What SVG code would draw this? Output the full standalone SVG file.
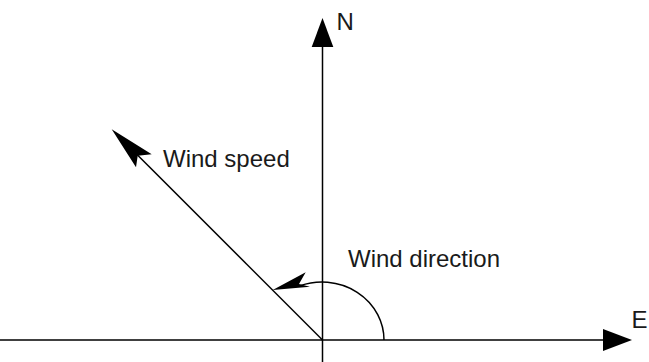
<svg xmlns="http://www.w3.org/2000/svg" width="649" height="362" viewBox="0 0 649 362">
<style>
.ln{stroke:#000;stroke-width:1.5;fill:none}
.hd{fill:#000;stroke:none}
.t{font-family:"Liberation Sans",Arial,sans-serif;font-size:24px;fill:#1a1a1a}
</style>
<rect width="649" height="362" fill="#fff"/>
<g id="connectors">
<line class="ln" x1="0" y1="340" x2="606" y2="340"/>
<polygon class="hd" points="632,340 603,329 603,351"/>
<line class="ln" x1="322.5" y1="362" x2="322.5" y2="44"/>
<polygon class="hd" points="322.5,18 311.7,47 333.3,47"/>
<line class="ln" x1="322.5" y1="340" x2="135" y2="152.5"/>
<polygon class="hd" points="111.7,129.3 151.7,154.3 137.7,155.8 136,167.3"/>
<path class="ln" d="M384,340 A62,58 0 0 0 300,285.8"/>
<polygon class="hd" points="272.7,290 305.7,272.3 299,284 310,286.7"/>
</g>
<g id="N"><text class="t" x="336.5" y="30">N</text></g>
<g id="E"><text class="t" x="631.5" y="328">E</text></g>
<g id="wind-speed"><text class="t" x="163" y="167">Wind speed</text></g>
<g id="wind-direction"><text class="t" x="348" y="267">Wind direction</text></g>
</svg>
